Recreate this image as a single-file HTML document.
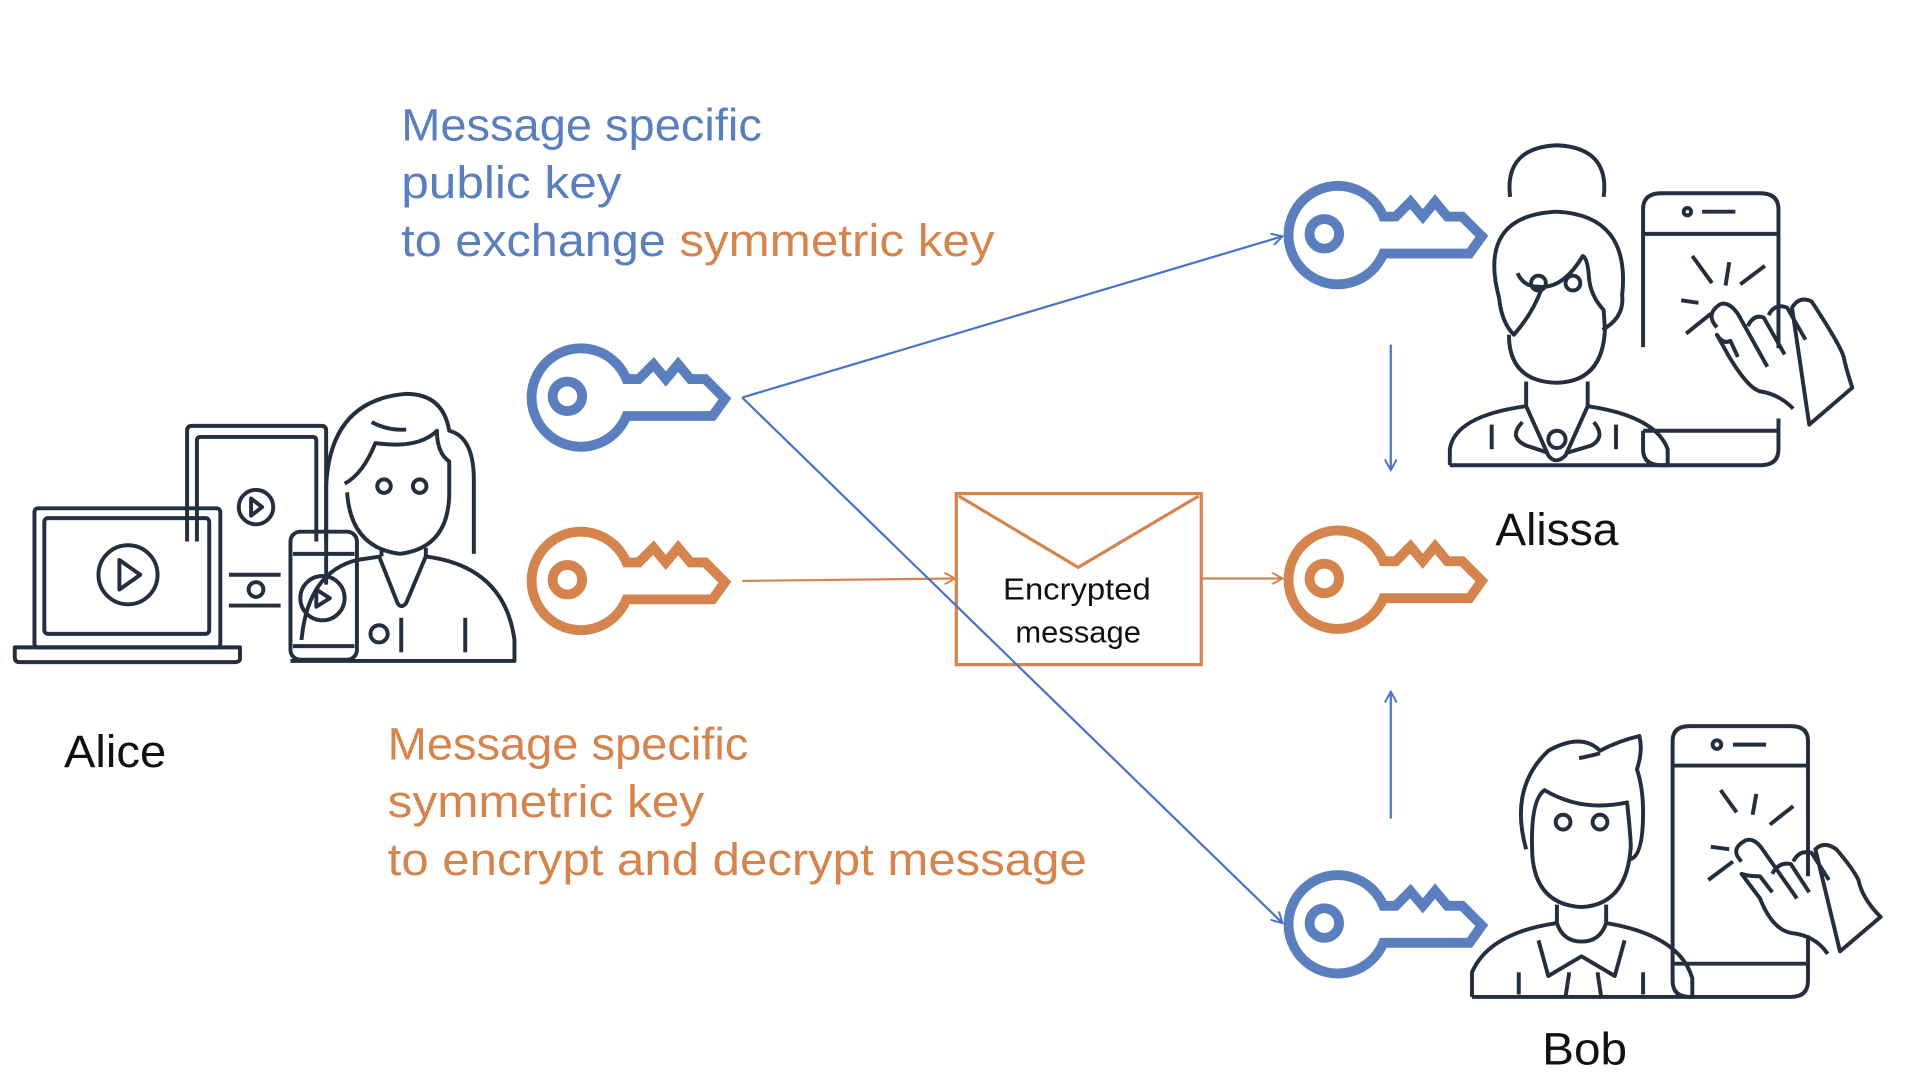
<!DOCTYPE html>
<html><head><meta charset="utf-8"><style>
html,body{margin:0;padding:0;background:#fff;width:1920px;height:1080px;overflow:hidden}
svg{display:block}
text{font-family:"Liberation Sans","DejaVu Sans",sans-serif}
</style></head><body>
<svg width="1920" height="1080" viewBox="0 0 1560 877.5" xmlns="http://www.w3.org/2000/svg">
<defs>
<g id="key" fill="none" stroke-width="8" stroke-linejoin="miter">
<path d="M36,-14 L46,-14 L58,-26 L68,-14 L78,-26 L88,-14 L100,-14 L116,2 L106,16 L36,16 A40,40 0 1 1 36,-14 Z"/>
<circle cx="-12" cy="0" r="12"/>
</g>
<marker id="ab" viewBox="0 0 10 10" refX="9" refY="5" markerWidth="10" markerHeight="10" markerUnits="userSpaceOnUse" orient="auto"><path d="M0,0 L9,5 L0,10" fill="none" stroke="#4a72c8" stroke-width="1.6"/></marker>
<marker id="ao" viewBox="0 0 10 10" refX="9" refY="5" markerWidth="10" markerHeight="10" markerUnits="userSpaceOnUse" orient="auto"><path d="M0,0 L9,5 L0,10" fill="none" stroke="#d5844d" stroke-width="1.6"/></marker>
</defs>

<!-- texts -->
<g font-size="37" lengthAdjust="spacingAndGlyphs">
<text x="326" y="114" fill="#5b7fbe" textLength="293" lengthAdjust="spacingAndGlyphs">Message specific</text>
<text x="326" y="161" fill="#5b7fbe" textLength="179" lengthAdjust="spacingAndGlyphs">public key</text>
<text x="326" y="208" fill="#5b7fbe" textLength="215" lengthAdjust="spacingAndGlyphs">to exchange</text>
<text x="552" y="208" fill="#d5844d" textLength="256" lengthAdjust="spacingAndGlyphs">symmetric key</text>
<text x="315" y="617" fill="#d5844d" textLength="293" lengthAdjust="spacingAndGlyphs">Message specific</text>
<text x="315" y="664" fill="#d5844d" textLength="257" lengthAdjust="spacingAndGlyphs">symmetric key</text>
<text x="315" y="711" fill="#d5844d" textLength="568" lengthAdjust="spacingAndGlyphs">to encrypt and decrypt message</text>
<text x="52" y="623" fill="#111" textLength="83" lengthAdjust="spacingAndGlyphs">Alice</text>
<text x="1215" y="443" fill="#111" textLength="100" lengthAdjust="spacingAndGlyphs">Alissa</text>
<text x="1253" y="865" fill="#111" textLength="69" lengthAdjust="spacingAndGlyphs">Bob</text>
</g>

<!-- keys -->
<use href="#key" x="473" y="322" stroke="#5b7fbe"/>
<use href="#key" x="473" y="471" stroke="#d5844d"/>
<use href="#key" x="1088" y="190" stroke="#5b7fbe"/>
<use href="#key" x="1088" y="470" stroke="#d5844d"/>
<use href="#key" x="1088" y="750" stroke="#5b7fbe"/>

<!-- connectors -->
<g stroke-width="1.8" fill="none">
<line x1="603" y1="323" x2="1042" y2="192" stroke="#4a72c8" marker-end="url(#ab)"/>
<line x1="603" y1="472" x2="776" y2="470" stroke="#d5844d" marker-end="url(#ao)"/>
<line x1="977" y1="470" x2="1042" y2="470" stroke="#d5844d" marker-end="url(#ao)"/>
<line x1="1130" y1="280" x2="1130" y2="382" stroke="#4a72c8" marker-end="url(#ab)"/>
<line x1="1130" y1="665" x2="1130" y2="562" stroke="#4a72c8" marker-end="url(#ab)"/>
</g>

<!-- envelope -->
<rect x="777" y="401" width="199" height="139" fill="none" stroke="#d5844d" stroke-width="2.6"/>
<path d="M779,403 L876,461 L974,403" fill="none" stroke="#d5844d" stroke-width="2.6"/>
<line x1="603" y1="323" x2="1042" y2="750" stroke="#4a72c8" stroke-width="1.8" marker-end="url(#ab)"/>
<text x="875" y="487" font-size="25" text-anchor="middle" fill="#111" textLength="120" lengthAdjust="spacingAndGlyphs">Encrypted</text>
<text x="876" y="522" font-size="25" text-anchor="middle" fill="#111" textLength="102" lengthAdjust="spacingAndGlyphs">message</text>

<!-- Alice group -->
<g fill="none" stroke="#232f3e" stroke-width="3.2" stroke-linecap="butt" stroke-linejoin="round">
<rect x="28" y="413" width="151" height="113" rx="3"/>
<rect x="36" y="421" width="134" height="94" rx="3"/>
<circle cx="104" cy="467" r="24"/>
<path d="M97,455 L114,467 L97,479 Z"/>
<path d="M12,526 L195,526 L195,535 Q195,538 190,538 L16,538 Q12,538 12,534 Z"/>
<path d="M152,440 L152,350 Q152,346 156,346 L261,346 Q265,346 265,350 L265,440"/>
<path d="M160,440 L160,358 Q160,355 163,355 L254,355 Q257,355 257,358 L257,440"/>
<circle cx="208" cy="412" r="14"/>
<path d="M204,405 L213,412 L204,419 Z"/>
<line x1="186" y1="467" x2="228" y2="467"/><line x1="186" y1="492" x2="228" y2="492"/>
<circle cx="208" cy="479" r="6"/>
<rect x="236" y="432" width="54" height="104" rx="8"/>
<line x1="238" y1="450" x2="288" y2="450"/><line x1="238" y1="525" x2="288" y2="525"/>
<circle cx="262" cy="486" r="18"/><path d="M257,479 L268,486 L257,493 Z"/>
<path d="M265,475 L265,395 Q268,325 330,320 Q360,320 365,350 Q385,355 385,390 L385,450"/>
<path d="M245,520 Q250,465 290,455 L310,452 M345,452 Q410,460 418,520 L418,537 L236,537"/>
<path d="M282,400 Q285,445 325,450 Q365,445 365,400 L365,375 Q355,368 355,350 Q340,365 305,360 Q295,385 280,393"/>
<path d="M308,452 L323,490 Q326,495 330,490 L346,452 L346,445 M310,452 L310,445"/>
<path d="M302,343 Q315,350 330,349"/>
<circle cx="312" cy="395" r="5.5"/><circle cx="341" cy="395" r="5.5"/>
<circle cx="308" cy="515" r="7"/><line x1="326" y1="502" x2="326" y2="530"/><line x1="378" y1="502" x2="378" y2="530"/>
</g>

<!-- Alissa group -->
<g fill="none" stroke="#232f3e" stroke-width="3.2" stroke-linejoin="round">
<path d="M1227,160 Q1222,120 1265,118 Q1308,120 1303,160"/>
<path d="M1218,242 Q1200,175 1265,172 Q1325,175 1318,240 Q1320,258 1302,268"/>
<path d="M1218,242 Q1220,262 1230,272 Q1245,255 1252,236"/>
<path d="M1226,272 Q1226,310 1265,311 Q1302,310 1304,268 L1303,252 Q1292,240 1291,225 Q1290,210 1286,208 Q1270,235 1250,233 Q1238,233 1233,222"/>
<circle cx="1250" cy="230" r="6"/><circle cx="1278" cy="230" r="6"/>
<path d="M1240,310 L1240,330 L1258,370 Q1264,378 1272,370 L1290,330 L1290,310"/>
<path d="M1178,378 L1178,365 Q1182,338 1240,330 M1290,330 Q1345,338 1355,365 L1355,378 L1178,378"/>
<path d="M1237,343 Q1225,355 1240,362 L1258,368 M1273,368 L1293,362 Q1305,355 1295,343"/>
<line x1="1212" y1="345" x2="1212" y2="365"/><line x1="1313" y1="345" x2="1313" y2="365"/>
<circle cx="1265" cy="357" r="7"/>
<path d="M1335,282 L1335,170 Q1335,157 1350,157 L1430,157 Q1445,157 1445,170 L1445,283 M1445,340 L1445,365 Q1445,378 1430,378 L1350,378 Q1335,378 1335,365 L1335,350"/>
<line x1="1335" y1="190" x2="1445" y2="190"/><line x1="1335" y1="350" x2="1445" y2="350"/>
<circle cx="1371" cy="172" r="3"/><line x1="1383" y1="172" x2="1410" y2="172"/>
<path d="M1375,208 L1391,230 M1405,213 L1402,232 M1434,216 L1414,231 M1366,244 L1380,246 M1370,271 L1390,255"/>
<path d="M1457,332 Q1445,320 1430,318 Q1420,315 1405,290 L1395,272 Q1400,280 1406,277 L1412,290 M1395,266 Q1385,255 1398,247 Q1405,245 1412,255 L1436,298 M1420,265 Q1425,255 1433,258 L1450,288 M1437,256 Q1442,246 1452,250 L1467,276 M1456,250 Q1462,240 1472,245 Q1495,280 1498,290 Q1500,300 1505,315 L1470,345 Z"/>
</g>

<!-- Bob group -->
<g fill="none" stroke="#232f3e" stroke-width="3.2" stroke-linejoin="round">
<path d="M1240,690 Q1226,640 1258,610 Q1285,595 1300,610 Q1315,602 1332,598 Q1335,610 1330,625 Q1335,640 1335,660 Q1335,695 1325,698"/>
<path d="M1283,616 Q1293,614 1300,612"/>
<path d="M1245,695 Q1243,650 1255,642 Q1285,660 1322,652 Q1325,680 1325,688 Q1322,735 1285,737 Q1248,735 1245,695"/>
<circle cx="1270" cy="668" r="6"/><circle cx="1300" cy="668" r="6"/>
<path d="M1265,735 L1265,750 Q1270,765 1285,765 Q1300,765 1305,750 L1305,735"/>
<path d="M1196,810 L1196,790 Q1210,758 1265,750 M1305,750 Q1365,760 1375,795 L1375,810 L1196,810"/>
<path d="M1250,764 L1258,793 L1285,777 L1312,793 L1320,764"/>
<path d="M1275,790 L1272,810 M1298,790 L1301,810"/>
<line x1="1234" y1="790" x2="1234" y2="808"/><line x1="1335" y1="790" x2="1335" y2="808"/>
<path d="M1359,780 L1359,602 Q1359,590 1373,590 L1455,590 Q1469,590 1469,602 L1469,712 M1469,760 L1469,797 Q1469,810 1455,810 L1373,810 Q1359,810 1359,797 L1359,780"/>
<line x1="1359" y1="622" x2="1469" y2="622"/><line x1="1359" y1="783" x2="1469" y2="783"/>
<circle cx="1395" cy="605" r="3.5"/><line x1="1408" y1="605" x2="1435" y2="605"/>
<path d="M1398,642 L1411,660 M1427,645 L1424,662 M1457,655 L1438,670 M1390,688 L1405,690 M1388,715 L1408,700"/>
<path d="M1485,775 Q1475,760 1455,758 Q1440,755 1430,730 L1415,710 Q1420,712 1430,712 L1440,725 M1415,700 Q1405,690 1418,683 Q1425,680 1432,690 L1460,730 M1440,710 Q1445,700 1455,702 L1470,725 M1457,700 Q1462,690 1472,693 L1486,715 M1475,690 Q1482,683 1492,690 Q1505,705 1510,715 Q1513,730 1528,745 L1495,773 Z"/>
</g>
</svg>
</body></html>
